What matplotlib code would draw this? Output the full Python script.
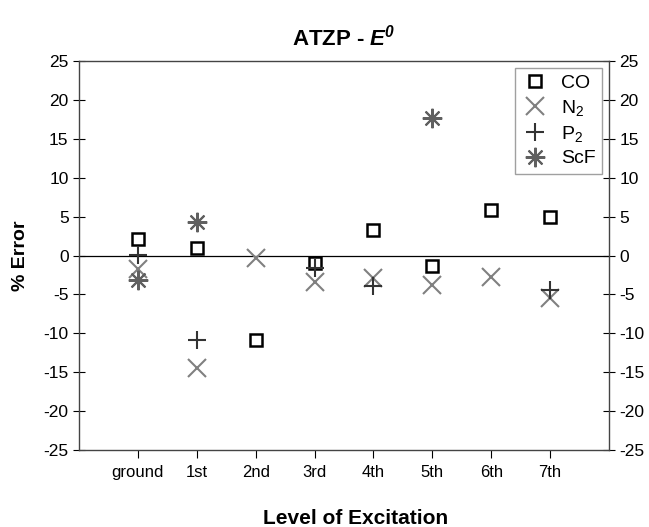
import matplotlib
matplotlib.use("Agg")
import matplotlib.pyplot as plt
import numpy as np

plt.rcParams['font.family'] = ['Liberation Sans', 'DejaVu Sans']
plt.rcParams['axes.unicode_minus'] = False
plt.rcParams['mathtext.fontset'] = 'custom'
plt.rcParams['mathtext.rm'] = 'Liberation Sans'
plt.rcParams['mathtext.it'] = 'Liberation Sans:italic'
plt.rcParams['mathtext.bf'] = 'Liberation Sans:bold'
plt.rcParams['mathtext.bfit'] = 'Liberation Sans:bold:italic'

levels = ["ground", "1st", "2nd", "3rd", "4th", "5th", "6th", "7th"]
co_x = [0, 1, 2, 3, 4, 5, 6, 7]
co_y = [2.1, 0.9, -10.9, -1.0, 3.3, -1.4, 5.8, 5.0]
n2_x = [0, 1, 2, 3, 4, 5, 6, 7]
n2_y = [-1.7, -14.4, -0.3, -3.4, -2.9, -3.8, -2.75, -5.4]
p2_x = [0, 1, 3, 4, 7]
p2_y = [0.1, -10.8, -1.6, -3.95, -4.4]
scf_x = [0, 1, 5]
scf_y = [-3.1, 4.3, 17.7]

fig = plt.figure(figsize=(6.49, 5.27), dpi=100)
ax = fig.add_axes([79/649, 1-450/527, 530/649, 389/527])

ax.axhline(0, color='black', lw=0.9, zorder=1)

ax.plot(co_x, co_y, ls='none', marker='s', ms=9, mfc='none', mec='black', mew=1.8, label='CO', zorder=3)
ax.plot(n2_x, n2_y, ls='none', marker='x', ms=13, mec='#808080', mew=1.5, label='N$_2$', zorder=3)
ax.plot(p2_x, p2_y, ls='none', marker='+', ms=13, mec='#333333', mew=1.5, label='P$_2$', zorder=4)
ax.plot(scf_x, scf_y, ls='none', marker=(8, 2, 0), ms=14, mec='#606060', mew=1.5, label='ScF', zorder=3)

ax.set_xlim(-1, 8)
ax.set_ylim(-25, 25)
ax.set_xticks(range(len(levels)))
ax.set_xticklabels(levels, fontsize=12)
ax.set_yticks(np.arange(-25, 26, 5))
ax.tick_params(axis='y', direction='inout', length=9, labelsize=12.5, right=True, labelright=True, width=0.8, pad=3)
ax.tick_params(axis='x', direction='out', length=6, width=0.8, pad=5)
for s in ax.spines.values():
    s.set_color('#444444')
    s.set_linewidth(1.0)

fig.text(356/649, 9/527, 'Level of Excitation', fontsize=15, fontweight='bold', ha='center', va='center')
ax.set_ylabel('% Error', fontsize=14, fontweight='bold', labelpad=10)
ax.set_title('ATZP - $\\mathbfit{E}^{\\mathbfit{0}}$', fontsize=16, fontweight='bold', pad=11)

leg = ax.legend(loc='upper right', fontsize=14, frameon=True, fancybox=False,
                borderaxespad=0.35, handletextpad=0.6, labelspacing=0.3,
                borderpad=0.35, handlelength=1.4, markerfirst=True)
leg.get_frame().set_edgecolor('#888888')
leg.get_frame().set_linewidth(1.0)

fig.savefig('out.png', dpi=100)
